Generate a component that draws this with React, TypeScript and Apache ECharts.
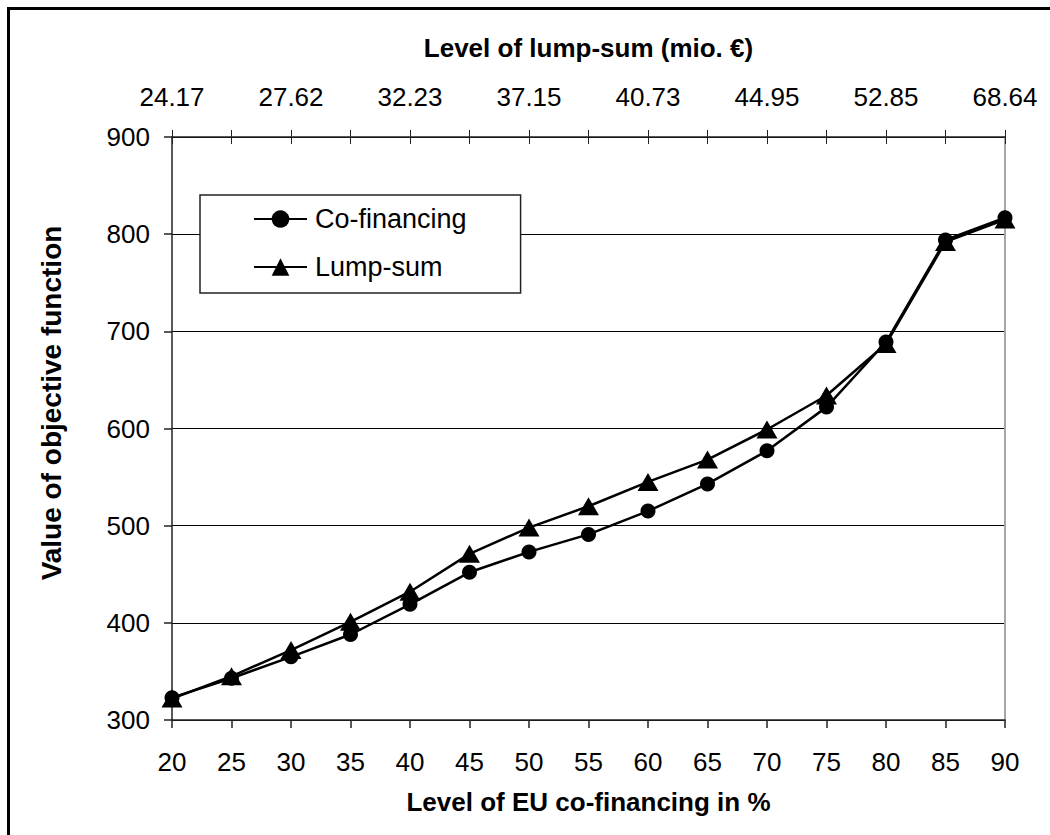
import React, { useEffect, useRef } from "react";
import * as echarts from "echarts";

const categories = ["20", "25", "30", "35", "40", "45", "50", "55", "60", "65", "70", "75", "80", "85", "90"];
const topTickLabels = ["24.17", "27.62", "32.23", "37.15", "40.73", "44.95", "52.85", "68.64"];
const coFinancing = [323, 343, 365, 388, 419, 452, 473, 491, 515, 543, 577, 622, 689, 794, 817];
const lumpSum = [322, 345, 372, 401, 432, 471, 498, 520, 545, 568, 599, 634, 687, 792, 815];
const yTicks = { min: 300, max: 900, interval: 100 };

const FONT = "'Liberation Sans', Arial, sans-serif";

export default function App() {
  const ref = useRef<HTMLDivElement>(null);
  useEffect(() => {
    if (!ref.current) return;
    const chart = echarts.init(ref.current, undefined, { renderer: "svg" });
    const topData = categories.map((_, i) => (i % 2 === 0 ? topTickLabels[i / 2] : ""));
    chart.setOption({
      animation: false,
      backgroundColor: "#fff",
      textStyle: { fontFamily: FONT },
      grid: { left: 172, right: 45, top: 137, bottom: 115, containLabel: false },
      legend: {
        orient: "vertical",
        left: 200,
        top: 195,
        data: ["Co-financing", "Lump-sum"],
        itemWidth: 53,
        itemHeight: 22,
        itemGap: 18,
        padding: [9, 54, 11, 53],
        borderColor: "#222",
        borderWidth: 1.5,
        backgroundColor: "#fff",
        textStyle: { fontSize: 27, color: "#000", fontFamily: FONT, lineHeight: 30, padding: [0, 0, 0, 3] },
      },
      xAxis: [
        {
          type: "category",
          data: categories,
          boundaryGap: false,
          position: "bottom",
          axisLine: { lineStyle: { color: "#222", width: 1.5 } },
          axisTick: { show: true, length: 8, interval: 0, lineStyle: { color: "#222", width: 1.5 } },
          axisLabel: { interval: 0, margin: 29, fontSize: 26, color: "#000", fontFamily: FONT },
        },
        {
          type: "category",
          data: topData,
          boundaryGap: false,
          position: "top",
          axisLine: { lineStyle: { color: "#222", width: 1.5 } },
          axisTick: { show: true, length: 7, interval: 0, lineStyle: { color: "#222", width: 1 } },
          axisLabel: { interval: 0, margin: 27, fontSize: 26, color: "#000", fontFamily: FONT },
        },
        {
          type: "category",
          data: topData,
          boundaryGap: false,
          position: "top",
          axisLine: { show: false },
          axisTick: { show: true, inside: true, length: 7, interval: 0, lineStyle: { color: "#222", width: 1 } },
          axisLabel: { show: false },
        },
      ],
      yAxis: [
        {
          type: "value",
          min: yTicks.min,
          max: yTicks.max,
          interval: yTicks.interval,
          position: "left",
          axisLine: { show: true, lineStyle: { color: "#222", width: 1.5 } },
          axisTick: { show: true, length: 8, lineStyle: { color: "#222", width: 1.5 } },
          axisLabel: { margin: 22, fontSize: 26, color: "#000", fontFamily: FONT },
          splitLine: { show: true, lineStyle: { color: "#000", width: 1 } },
        },
        {
          type: "value",
          min: yTicks.min,
          max: yTicks.max,
          interval: yTicks.interval,
          position: "right",
          axisLine: { show: true, lineStyle: { color: "#a6a6a6", width: 2 } },
          axisTick: { show: false },
          axisLabel: { show: false },
          splitLine: { show: false },
        },
      ],
      series: [
        {
          name: "Co-financing",
          type: "line",
          data: coFinancing,
          symbol: "circle",
          symbolSize: 15,
          lineStyle: { color: "#000", width: 2.5 },
          itemStyle: { color: "#000" },
        },
        {
          name: "Lump-sum",
          type: "line",
          data: lumpSum,
          symbol: "triangle",
          symbolSize: [21, 18],
          lineStyle: { color: "#000", width: 2.5 },
          itemStyle: { color: "#000" },
        },
      ],
      graphic: [
        { type: "line", shape: { x1: 8.5, y1: 7, x2: 8.5, y2: 835 }, style: { stroke: "#000", lineWidth: 3 } },
        { type: "line", shape: { x1: 7, y1: 8.5, x2: 1050, y2: 8.5 }, style: { stroke: "#000", lineWidth: 3 } },
        {
          type: "text",
          x: 588.5,
          y: 48,
          style: { text: "Level of lump-sum (mio. €)", font: `bold 26px ${FONT}`, fill: "#000", align: "center", verticalAlign: "middle" },
        },
        {
          type: "text",
          x: 588.5,
          y: 802,
          style: { text: "Level of EU co-financing in %", font: `bold 26px ${FONT}`, fill: "#000", align: "center", verticalAlign: "middle" },
        },
        {
          type: "text",
          x: 51,
          y: 403,
          rotation: Math.PI / 2,
          style: { text: "Value of objective function", font: `bold 28px ${FONT}`, fill: "#000", align: "center", verticalAlign: "middle" },
        },
      ],
    });
    return () => chart.dispose();
  }, []);
  return <div ref={ref} style={{ position: "absolute", left: 0, top: 0, width: 1050, height: 835 }} />;
}
